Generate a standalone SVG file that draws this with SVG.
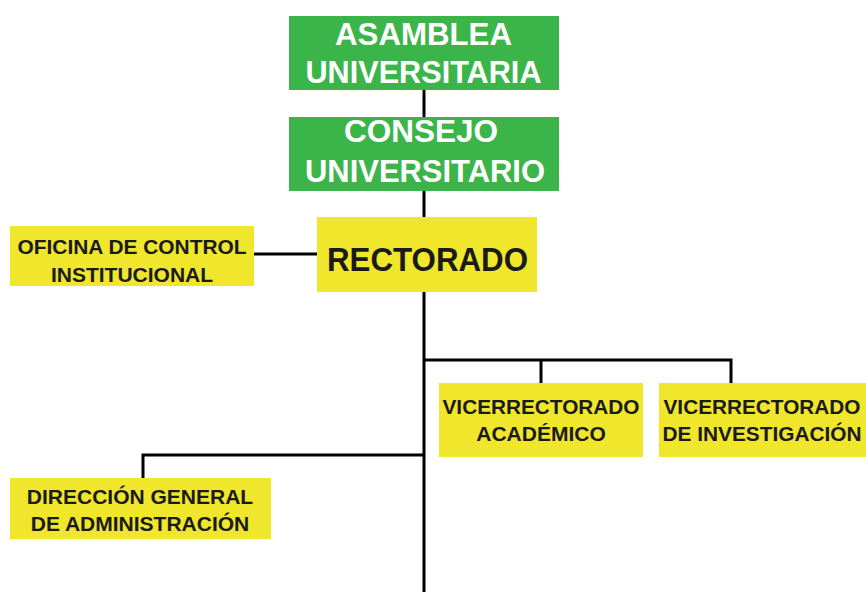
<svg xmlns="http://www.w3.org/2000/svg" width="866" height="592" viewBox="0 0 866 592">
<style>
.g{fill:#3BB54A}
.y{fill:#F0E62B}
.tw{fill:#FFFFFF;font-family:"Liberation Sans",Arial,sans-serif;font-weight:bold;font-size:32px;text-anchor:middle}
.tb{fill:#1A1A1A;font-family:"Liberation Sans",Arial,sans-serif;font-weight:bold;font-size:21px;text-anchor:middle}
.tr{fill:#1A1A1A;font-family:"Liberation Sans",Arial,sans-serif;font-weight:bold;font-size:34px;text-anchor:middle}
.c{stroke:#000;stroke-width:3;fill:none}
</style>
<rect width="866" height="592" fill="#FFFFFF"/>
<g id="connectors">
<line class="c" x1="424" y1="90" x2="424" y2="117"/>
<line class="c" x1="424" y1="191" x2="424" y2="218"/>
<line class="c" x1="254" y1="254" x2="318" y2="254"/>
<line class="c" x1="424" y1="291" x2="424" y2="592"/>
<polyline class="c" points="424,360 731,360 731,384"/>
<line class="c" x1="541" y1="360" x2="541" y2="384"/>
<polyline class="c" points="424,455 143,455 143,479"/>
</g>
<g id="asamblea">
<rect class="g" x="289" y="16" width="270" height="74"/>
<text class="tw" x="423.5" y="45" textLength="177" lengthAdjust="spacingAndGlyphs">ASAMBLEA</text>
<text class="tw" x="423.5" y="83" textLength="236" lengthAdjust="spacingAndGlyphs">UNIVERSITARIA</text>
</g>
<g id="consejo">
<rect class="g" x="289" y="117" width="270" height="74"/>
<text class="tw" x="421" y="142" textLength="154" lengthAdjust="spacingAndGlyphs">CONSEJO</text>
<text class="tw" x="425" y="182" textLength="240" lengthAdjust="spacingAndGlyphs">UNIVERSITARIO</text>
</g>
<g id="rectorado">
<rect class="y" x="317" y="217" width="220" height="75"/>
<text class="tr" x="427.5" y="271" textLength="201" lengthAdjust="spacingAndGlyphs">RECTORADO</text>
</g>
<g id="oficina">
<rect class="y" x="10" y="226" width="244" height="60"/>
<text class="tb" x="132" y="254" textLength="229" lengthAdjust="spacingAndGlyphs">OFICINA DE CONTROL</text>
<text class="tb" x="132" y="282">INSTITUCIONAL</text>
</g>
<g id="vice-academico">
<rect class="y" x="439" y="383" width="204" height="74"/>
<text class="tb" x="541" y="414" textLength="197" lengthAdjust="spacingAndGlyphs">VICERRECTORADO</text>
<text class="tb" x="541" y="441">ACADÉMICO</text>
</g>
<g id="vice-investigacion">
<rect class="y" x="659" y="383" width="220" height="74"/>
<text class="tb" x="762" y="414" textLength="197" lengthAdjust="spacingAndGlyphs">VICERRECTORADO</text>
<text class="tb" x="762" y="441" textLength="199" lengthAdjust="spacingAndGlyphs">DE INVESTIGACIÓN</text>
</g>
<g id="direccion">
<rect class="y" x="10" y="478" width="261" height="61"/>
<text class="tb" x="140" y="504">DIRECCIÓN GENERAL</text>
<text class="tb" x="140" y="531">DE ADMINISTRACIÓN</text>
</g>
</svg>
